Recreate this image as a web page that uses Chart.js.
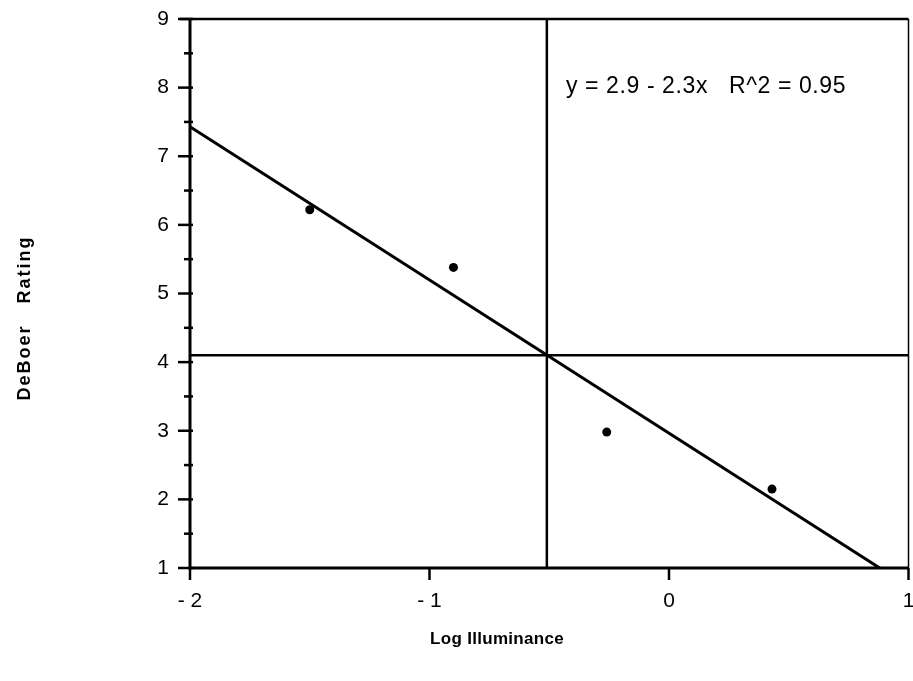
<!DOCTYPE html>
<html lang="en">
<head>
  <meta charset="UTF-8" />
  <title>DeBoer Rating vs Log Illuminance</title>
  <script src="https://cdn.jsdelivr.net/npm/chart.js"></script>
  <style>
    html, body { margin: 0; padding: 0; background: #fff; }
    #wrap { width: 913px; height: 681px; }
  </style>
</head>
<body>
  <div id="wrap"><canvas id="chart" width="913" height="681"></canvas></div>

  <script>
    // observations
    const logIlluminance = [-1.5, -0.9, -0.26, 0.43];
    const deBoerRating = [6.22, 5.38, 2.98, 2.15];

    // regression line endpoints (where it meets the frame)
    const fitX = [-2, 0.88];
    const fitY = [7.43, 1];

    // mean cross lines
    const meanX = -0.51;
    const meanY = 4.1;

    const xTicks = [-2, -1, 0, 1];
    const xTickLabels = ['- 2', '- 1', '0', '1'];
    const yTicks = [1, 2, 3, 4, 5, 6, 7, 8, 9];

    const equation = 'y = 2.9 - 2.3x   R^2 = 0.95';
    const xTitle = 'Log Illuminance';
    const yTitle = 'DeBoer   Rating';

    const font = '"Liberation Sans", Arial, sans-serif';

    const pts = (xs, ys) => xs.map((x, i) => ({ x, y: ys[i] }));

    // frame, ticks and free text
    const decor = {
      id: 'decor',
      afterDraw(chart) {
        const { ctx, chartArea: a, scales: { x, y } } = chart;
        ctx.save();
        ctx.strokeStyle = '#000';
        ctx.lineCap = 'butt';

        // frame
        ctx.lineWidth = 1.5;
        ctx.beginPath(); ctx.moveTo(a.right, a.top); ctx.lineTo(a.right, a.bottom); ctx.stroke();
        ctx.lineWidth = 2.5;
        ctx.beginPath(); ctx.moveTo(a.left - 10, a.top); ctx.lineTo(a.right, a.top); ctx.stroke();
        ctx.lineWidth = 3;
        ctx.beginPath();
        ctx.moveTo(a.left, a.top - 1); ctx.lineTo(a.left, a.bottom);
        ctx.lineTo(a.right, a.bottom);
        ctx.stroke();

        // y ticks
        ctx.lineWidth = 2.5;
        for (let v = 1; v <= 9; v += 0.5) {
          const py = y.getPixelForValue(v);
          const major = Number.isInteger(v);
          ctx.beginPath();
          ctx.moveTo(a.left - (major ? 12 : 6), py);
          ctx.lineTo(a.left + 3, py);
          ctx.stroke();
        }
        // x ticks
        xTicks.forEach(v => {
          const px = x.getPixelForValue(v);
          ctx.beginPath();
          ctx.moveTo(px, a.bottom);
          ctx.lineTo(px, a.bottom + 12);
          ctx.stroke();
        });

        ctx.fillStyle = '#000';
        ctx.textBaseline = 'middle';

        // tick labels
        ctx.font = '21px ' + font;
        ctx.textAlign = 'right';
        yTicks.forEach(v => ctx.fillText(String(v), a.left - 21, y.getPixelForValue(v)));
        ctx.textAlign = 'center';
        xTicks.forEach((v, i) => ctx.fillText(xTickLabels[i], x.getPixelForValue(v), a.bottom + 33));

        // equation
        ctx.font = '23px ' + font;
        ctx.letterSpacing = '0.6px';
        ctx.textAlign = 'left';
        ctx.fillText(equation, 566, 87);

        // axis titles
        ctx.font = 'bold 17px ' + font;
        ctx.letterSpacing = '0.3px';
        ctx.textAlign = 'center';
        ctx.fillText(xTitle, 497, 639);
        ctx.font = 'bold 18px ' + font;
        ctx.letterSpacing = '2px';
        ctx.translate(25, 318);
        ctx.rotate(-Math.PI / 2);
        ctx.fillText(yTitle, 0, 0);

        ctx.restore();
      }
    };

    new Chart(document.getElementById('chart'), {
      type: 'scatter',
      data: {
        datasets: [
          {
            label: 'Observations',
            data: pts(logIlluminance, deBoerRating),
            pointRadius: 4.5,
            pointBackgroundColor: '#000',
            pointBorderWidth: 0
          },
          {
            label: 'Fit',
            data: pts(fitX, fitY),
            showLine: true,
            borderColor: '#000',
            borderWidth: 3,
            pointRadius: 0
          },
          {
            label: 'Mean x',
            data: pts([meanX, meanX], [1, 9]),
            showLine: true,
            borderColor: '#000',
            borderWidth: 2.5,
            pointRadius: 0
          },
          {
            label: 'Mean y',
            data: pts([-2, 1], [meanY, meanY]),
            showLine: true,
            borderColor: '#000',
            borderWidth: 2.5,
            pointRadius: 0
          }
        ]
      },
      options: {
        responsive: false,
        animation: false,
        events: [],
        layout: { padding: { top: 19, right: 3, left: 0, bottom: 0 } },
        plugins: { legend: { display: false }, tooltip: { enabled: false } },
        scales: {
          x: {
            type: 'linear', min: -2, max: 1,
            grid: { display: false, drawTicks: false },
            border: { display: false },
            ticks: { display: false },
            afterFit: s => { s.height = 113; }
          },
          y: {
            type: 'linear', min: 1, max: 9,
            grid: { display: false, drawTicks: false },
            border: { display: false },
            ticks: { display: false },
            afterFit: s => { s.width = 190; }
          }
        }
      },
      plugins: [decor]
    });
  </script>
</body>
</html>
